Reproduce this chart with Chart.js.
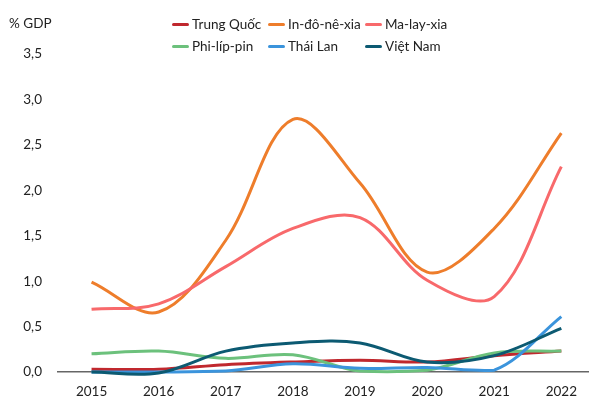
<!DOCTYPE html>
<html>
<head>
<meta charset="utf-8">
<script src="https://cdn.jsdelivr.net/npm/chart.js@4.4.1/dist/chart.umd.min.js"></script>
<style>
  html, body { margin: 0; padding: 0; background: #fff; }
  #wrap { position: relative; width: 589px; height: 401px; font-family: Lato, "Open Sans", sans-serif; color: #222; }
  #unit { position: absolute; left: 9px; top: 15px; font-size: 13.5px; }
  #legend { position: absolute; left: 172px; top: 15px; display: grid; grid-template-columns: 96px 97px 120px; row-gap: 4px; font-size: 13.5px; }
  .item { display: flex; align-items: center; height: 18px; }
  .swatch { width: 17px; height: 3px; border-radius: 2px; margin-right: 3px; }
</style>
</head>
<body>
<div id="wrap">
  <div id="unit">% GDP</div>
  <div id="legend"></div>
  <canvas id="chart" width="589" height="401"></canvas>
</div>
<script>
// years on the x axis
const years = [2015, 2016, 2017, 2018, 2019, 2020, 2021, 2022];

// values, % GDP
const trungQuoc = [0.03, 0.03, 0.08, 0.11, 0.13, 0.11, 0.18, 0.23];
const indonesia = [0.99, 0.66, 1.45, 2.78, 2.08, 1.10, 1.58, 2.63];
const malaysia  = [0.69, 0.75, 1.16, 1.58, 1.70, 1.01, 0.83, 2.26];
const philippin = [0.20, 0.23, 0.15, 0.19, 0.01, 0.02, 0.21, 0.23];
const thaiLan   = [0.00, 0.00, 0.01, 0.09, 0.04, 0.05, 0.02, 0.61];
const vietNam   = [0.00, -0.01, 0.23, 0.32, 0.32, 0.11, 0.18, 0.48];

const seriesNames = ['Trung Quốc', 'In-đô-nê-xia', 'Ma-lay-xia', 'Phi-líp-pin', 'Thái Lan', 'Việt Nam'];
const seriesData = [trungQuoc, indonesia, malaysia, philippin, thaiLan, vietNam];
const seriesColors = ['#c0282e', '#ee7d2b', '#f8696b', '#6cc17c', '#3b94dc', '#0c5a72'];

const yTicks = [0, 0.5, 1, 1.5, 2, 2.5, 3, 3.5];

const datasets = seriesData.map((vals, i) => ({
    label: seriesNames[i],
    data: vals.map((v, j) => ({ x: years[j], y: v })),
    borderColor: seriesColors[i],
    backgroundColor: seriesColors[i],
    borderWidth: 3,
    pointRadius: 0,
    tension: 0.35,
    clip: false,
    order: seriesData.length - i   // later series drawn on top
}));

// html legend laid out in columns like the original
const legendEl = document.getElementById('legend');
seriesNames.forEach((name, i) => {
    const item = document.createElement('div');
    item.className = 'item';
    item.innerHTML = '<span class="swatch" style="background:' + seriesColors[i] + '"></span>' + name;
    legendEl.appendChild(item);
});

const font = { family: 'Lato, "Open Sans", sans-serif', size: 13.5 };

const ctx = document.getElementById('chart').getContext('2d');
const chart = new Chart(ctx, {
    type: 'line',
    data: { datasets: datasets },
    options: {
        responsive: false,
        animation: false,
        layout: { padding: { top: 54, right: 0, left: 0, bottom: 0 } },
        plugins: { legend: { display: false }, tooltip: { enabled: false } },
        scales: {
            x: {
                type: 'linear',
                min: 2014.5,
                max: 2022.4,
                afterBuildTicks: function(scale) {
                    scale.ticks = years.map(y => ({ value: y }));
                },
                afterFit: function(scale) { scale.height = 29; },
                grid: { display: false, drawTicks: false },
                border: { display: true, color: '#666', width: 1.5 },
                ticks: {
                    color: '#222',
                    font: font,
                    padding: 12,
                    callback: v => String(v)
                }
            },
            y: {
                min: 0,
                max: 3.5,
                afterBuildTicks: function(scale) {
                    scale.ticks = yTicks.map(v => ({ value: v }));
                },
                afterFit: function(scale) { scale.width = 58; },
                grid: { display: false, drawTicks: false },
                border: { display: false },
                ticks: {
                    color: '#222',
                    font: font,
                    padding: 16,
                    callback: v => v.toFixed(1).replace('.', ',')
                }
            }
        }
    }
});
</script>
</body>
</html>
